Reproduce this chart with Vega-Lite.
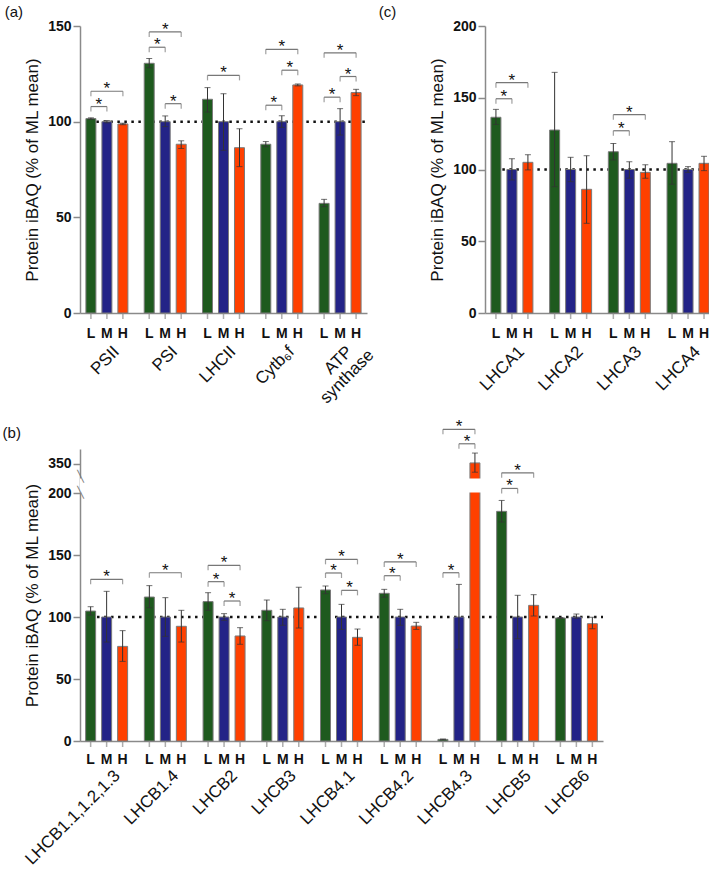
{
  "$schema": "https://vega.github.io/schema/vega-lite/v6.json",
  "padding": {"left": 2, "top": 5, "right": 0, "bottom": 0},
  "config": {
    "view": {"stroke": null},
    "font": "Liberation Sans",
    "axis": {"domainColor": "#8a8a8a", "domainWidth": 1.5, "tickColor": "#8a8a8a", "tickWidth": 1.5, "labelColor": "#111", "titleColor": "#111", "grid": false},
    "axisY": {"labelFontSize": 14, "labelFontWeight": "bold", "tickSize": 7, "labelPadding": 2, "titleFontSize": 17, "titleFontWeight": "normal", "titlePadding": 6},
    "axisX": {"ticks": false, "labelAngle": -45, "labelFontSize": 17, "labelPadding": 28, "labelOffset": 4, "labelFontWeight": "normal"},
    "title": {"fontSize": 15, "fontWeight": "normal", "anchor": "start", "color": "#111", "offset": -1}
  },
  "datasets": {
    "a_bars": [
      {"g": "PSII", "c": "L", "v": 101.6, "lo": 101.2, "hi": 102.0},
      {"g": "PSII", "c": "M", "v": 100, "lo": 99.4, "hi": 100.6},
      {"g": "PSII", "c": "H", "v": 98.8, "lo": 98.4, "hi": 99.2},
      {"g": "PSI", "c": "L", "v": 130.5, "lo": 128.2, "hi": 133},
      {"g": "PSI", "c": "M", "v": 100, "lo": 97.4, "hi": 103},
      {"g": "PSI", "c": "H", "v": 88.2, "lo": 86, "hi": 90},
      {"g": "LHCII", "c": "L", "v": 111.7, "lo": 105, "hi": 117.8},
      {"g": "LHCII", "c": "M", "v": 100, "lo": 85, "hi": 114.6},
      {"g": "LHCII", "c": "H", "v": 86.4, "lo": 76.5, "hi": 96.3},
      {"g": "Cytb₆f", "c": "L", "v": 88.2, "lo": 86.9, "hi": 89.6},
      {"g": "Cytb₆f", "c": "M", "v": 100, "lo": 97, "hi": 103.1},
      {"g": "Cytb₆f", "c": "H", "v": 119.2, "lo": 118.7, "hi": 119.7},
      {"g": "ATP synthase", "c": "L", "v": 57.3, "lo": 55.6, "hi": 59.4},
      {"g": "ATP synthase", "c": "M", "v": 100, "lo": 93, "hi": 106.8},
      {"g": "ATP synthase", "c": "H", "v": 115.2, "lo": 113.6, "hi": 116.9}
    ],
    "a_br": [
      {"g": "PSII", "from": "L", "to": "M", "y": 107.9},
      {"g": "PSII", "from": "L", "to": "H", "y": 115.9},
      {"g": "PSI", "from": "L", "to": "M", "y": 138.9},
      {"g": "PSI", "from": "L", "to": "H", "y": 146.9},
      {"g": "PSI", "from": "M", "to": "H", "y": 109.4},
      {"g": "LHCII", "from": "L", "to": "H", "y": 124.2},
      {"g": "Cytb₆f", "from": "L", "to": "M", "y": 108.6},
      {"g": "Cytb₆f", "from": "L", "to": "H", "y": 137.8},
      {"g": "Cytb₆f", "from": "M", "to": "H", "y": 126.9},
      {"g": "ATP synthase", "from": "L", "to": "M", "y": 112.8},
      {"g": "ATP synthase", "from": "L", "to": "H", "y": 136},
      {"g": "ATP synthase", "from": "M", "to": "H", "y": 123.6}
    ],
    "a_label2": [{"g": "ATP synthase", "t": "synthase"}],
    "c_bars": [
      {"g": "LHCA1", "c": "L", "v": 136.4, "lo": 131.4, "hi": 141.9},
      {"g": "LHCA1", "c": "M", "v": 100, "lo": 92.7, "hi": 107.5},
      {"g": "LHCA1", "c": "H", "v": 105, "lo": 99.7, "hi": 110.3},
      {"g": "LHCA2", "c": "L", "v": 127.5, "lo": 88, "hi": 167.7},
      {"g": "LHCA2", "c": "M", "v": 100, "lo": 91.5, "hi": 108.5},
      {"g": "LHCA2", "c": "H", "v": 86.2, "lo": 62.5, "hi": 109.6},
      {"g": "LHCA3", "c": "L", "v": 112.4, "lo": 106.6, "hi": 118.2},
      {"g": "LHCA3", "c": "M", "v": 100, "lo": 93.9, "hi": 105.4},
      {"g": "LHCA3", "c": "H", "v": 98, "lo": 93.9, "hi": 103.3},
      {"g": "LHCA4", "c": "L", "v": 104.3, "lo": 89.7, "hi": 119.4},
      {"g": "LHCA4", "c": "M", "v": 100, "lo": 98, "hi": 102},
      {"g": "LHCA4", "c": "H", "v": 104.3, "lo": 99.2, "hi": 109.2}
    ],
    "c_br": [
      {"g": "LHCA1", "from": "L", "to": "M", "y": 149.3},
      {"g": "LHCA1", "from": "L", "to": "H", "y": 160.5},
      {"g": "LHCA3", "from": "L", "to": "M", "y": 127},
      {"g": "LHCA3", "from": "L", "to": "H", "y": 138.2}
    ],
    "b_bars": [
      {"g": "LHCB1.1,1.2,1.3", "c": "L", "v": 104.8, "lo": 101.6, "hi": 108.3},
      {"g": "LHCB1.1,1.2,1.3", "c": "M", "v": 100, "lo": 79.8, "hi": 120.7},
      {"g": "LHCB1.1,1.2,1.3", "c": "H", "v": 76.3, "lo": 64.2, "hi": 89},
      {"g": "LHCB1.4", "c": "L", "v": 116.1, "lo": 107.5, "hi": 125.3},
      {"g": "LHCB1.4", "c": "M", "v": 100, "lo": 84.4, "hi": 115.6},
      {"g": "LHCB1.4", "c": "H", "v": 92.5, "lo": 79.8, "hi": 105.4},
      {"g": "LHCB2", "c": "L", "v": 112.4, "lo": 105.4, "hi": 119.6},
      {"g": "LHCB2", "c": "M", "v": 100, "lo": 97.3, "hi": 102.7},
      {"g": "LHCB2", "c": "H", "v": 84.7, "lo": 78, "hi": 91.4},
      {"g": "LHCB3", "c": "L", "v": 105.4, "lo": 97, "hi": 113.7},
      {"g": "LHCB3", "c": "M", "v": 100, "lo": 93.3, "hi": 106.2},
      {"g": "LHCB3", "c": "H", "v": 107.3, "lo": 91.1, "hi": 124},
      {"g": "LHCB4.1", "c": "L", "v": 121.8, "lo": 118.8, "hi": 125},
      {"g": "LHCB4.1", "c": "M", "v": 100, "lo": 90, "hi": 110.2},
      {"g": "LHCB4.1", "c": "H", "v": 83.6, "lo": 77.2, "hi": 90.3},
      {"g": "LHCB4.2", "c": "L", "v": 119.1, "lo": 115.9, "hi": 122.3},
      {"g": "LHCB4.2", "c": "M", "v": 100, "lo": 93.3, "hi": 106.2},
      {"g": "LHCB4.2", "c": "H", "v": 92.7, "lo": 90, "hi": 95.7},
      {"g": "LHCB4.3", "c": "L", "v": 1.3, "lo": 1.0, "hi": 1.6},
      {"g": "LHCB4.3", "c": "M", "v": 100, "lo": 74, "hi": 126.3},
      {"g": "LHCB4.3", "c": "H", "v": 351, "lo": 335, "hi": 368},
      {"g": "LHCB5", "c": "L", "v": 185.2, "lo": 176.6, "hi": 194},
      {"g": "LHCB5", "c": "M", "v": 100, "lo": 82.5, "hi": 117.5},
      {"g": "LHCB5", "c": "H", "v": 109.4, "lo": 100.8, "hi": 118},
      {"g": "LHCB6", "c": "L", "v": 99.2, "lo": 98.8, "hi": 99.6},
      {"g": "LHCB6", "c": "M", "v": 100, "lo": 99, "hi": 102.4},
      {"g": "LHCB6", "c": "H", "v": 94.6, "lo": 90.6, "hi": 99.7}
    ],
    "b_br": [
      {"g": "LHCB1.1,1.2,1.3", "from": "L", "to": "H", "y": 130.4},
      {"g": "LHCB1.4", "from": "L", "to": "H", "y": 135.7},
      {"g": "LHCB2", "from": "L", "to": "M", "y": 128.5},
      {"g": "LHCB2", "from": "L", "to": "H", "y": 141.7},
      {"g": "LHCB2", "from": "M", "to": "H", "y": 112.9},
      {"g": "LHCB4.1", "from": "L", "to": "M", "y": 135.5},
      {"g": "LHCB4.1", "from": "L", "to": "H", "y": 146.5},
      {"g": "LHCB4.1", "from": "M", "to": "H", "y": 121.5},
      {"g": "LHCB4.2", "from": "L", "to": "M", "y": 133.3},
      {"g": "LHCB4.2", "from": "L", "to": "H", "y": 144.4},
      {"g": "LHCB4.3", "from": "L", "to": "M", "y": 135.7},
      {"g": "LHCB4.3", "from": "L", "to": "H", "y": 409},
      {"g": "LHCB4.3", "from": "M", "to": "H", "y": 384},
      {"g": "LHCB5", "from": "L", "to": "M", "y": 238},
      {"g": "LHCB5", "from": "L", "to": "H", "y": 334}
    ],
    "b_breaks": [{"y": 327}, {"y": 200}]
  },
  "vconcat": [
    {
      "hconcat": [
        {
          "title": {"text": "(a)", "dx": -19},
          "width": 287, "height": 287,
          "layer": [
            {"data": {"values": [{}]}, "mark": {"type": "rule", "strokeDash": [2.5, 4.5], "strokeWidth": 2.5, "color": "#111"}, "encoding": {"y": {"datum": 100}, "x": {"datum": "PSII", "bandPosition": 0.28}, "x2": {"value": "width"}}},
            {"data": {"name": "a_bars"}, "mark": {"type": "bar", "stroke": "#7a7a7a", "strokeWidth": 1},
             "encoding": {
               "x": {"field": "g", "type": "nominal", "title": null, "scale": {"domain": ["PSII", "PSI", "LHCII", "Cytb₆f", "ATP synthase"], "paddingInner": 0.177, "paddingOuter": 0.05},
                     "axis": {"labelExpr": "datum.value == 'ATP synthase' ? 'ATP' : datum.label", "labelPadding": 30}},
               "xOffset": {"field": "c", "type": "nominal", "scale": {"domain": ["L", "M", "H"], "paddingInner": 0.375, "paddingOuter": 0.1875}},
               "y": {"field": "v", "type": "quantitative", "scale": {"domain": [0, 150], "nice": false}, "axis": {"values": [0, 50, 100, 150], "title": "Protein iBAQ (% of ML mean)"}},
               "color": {"field": "c", "type": "nominal", "scale": {"domain": ["L", "M", "H"], "range": ["#1e5a1e", "#232387", "#ff4000"]}, "legend": null}}},
            {"data": {"name": "a_label2"}, "mark": {"type": "text", "fontSize": 17, "angle": -45, "align": "right", "baseline": "top", "dx": -6, "dy": 42, "color": "#111"},
             "encoding": {"x": {"field": "g", "type": "nominal"}, "y": {"datum": 0}, "text": {"field": "t"}}},
            {"data": {"name": "a_bars"}, "mark": {"type": "rule", "color": "#333", "strokeWidth": 1},
             "encoding": {"x": {"field": "g", "type": "nominal"}, "xOffset": {"field": "c", "type": "nominal"}, "y": {"field": "lo", "type": "quantitative"}, "y2": {"field": "hi"}}},
            {"data": {"name": "a_bars"}, "mark": {"type": "tick", "color": "#333", "size": 6, "thickness": 1, "orient": "horizontal"},
             "encoding": {"x": {"field": "g", "type": "nominal"}, "xOffset": {"field": "c", "type": "nominal"}, "y": {"field": "lo", "type": "quantitative"}}},
            {"data": {"name": "a_bars"}, "mark": {"type": "tick", "color": "#333", "size": 6, "thickness": 1, "orient": "horizontal"},
             "encoding": {"x": {"field": "g", "type": "nominal"}, "xOffset": {"field": "c", "type": "nominal"}, "y": {"field": "hi", "type": "quantitative"}}},
            {"data": {"name": "a_bars"}, "mark": {"type": "tick", "color": "#8a8a8a", "size": 6, "thickness": 1.5, "orient": "vertical", "yOffset": 3},
             "encoding": {"x": {"field": "g", "type": "nominal"}, "xOffset": {"field": "c", "type": "nominal"}, "y": {"datum": 0}}},
            {"data": {"name": "a_bars"}, "mark": {"type": "text", "fontSize": 14, "fontWeight": "bold", "dy": 21, "baseline": "middle", "color": "#111"},
             "encoding": {"x": {"field": "g", "type": "nominal"}, "xOffset": {"field": "c", "type": "nominal"}, "y": {"datum": 0}, "text": {"field": "c"}}},
            {"data": {"name": "a_br"}, "transform": [{"fold": ["from", "to"], "as": ["end", "cond"]}], "mark": {"type": "line", "color": "#777", "strokeWidth": 1.2},
             "encoding": {"x": {"field": "g", "type": "nominal"}, "xOffset": {"field": "cond", "type": "nominal"}, "y": {"field": "y", "type": "quantitative"}, "detail": [{"field": "g"}, {"field": "from"}, {"field": "to"}]}},
            {"data": {"name": "a_br"}, "transform": [{"fold": ["from", "to"], "as": ["end", "cond"]}], "mark": {"type": "tick", "color": "#777", "size": 5, "thickness": 1.2, "orient": "vertical", "yOffset": 2.5},
             "encoding": {"x": {"field": "g", "type": "nominal"}, "xOffset": {"field": "cond", "type": "nominal"}, "y": {"field": "y", "type": "quantitative"}}},
            {"data": {"name": "a_br"}, "transform": [{"filter": "datum.from != 'L' || datum.to != 'H'"}], "mark": {"type": "text", "text": "*", "fontSize": 17, "dx": 8, "dy": 3, "baseline": "alphabetic", "color": "#111"},
             "encoding": {"x": {"field": "g", "type": "nominal"}, "xOffset": {"field": "from", "type": "nominal"}, "y": {"field": "y", "type": "quantitative"}}},
            {"data": {"name": "a_br"}, "transform": [{"filter": "datum.from == 'L' && datum.to == 'H'"}], "mark": {"type": "text", "text": "*", "fontSize": 17, "dx": 16, "dy": 3, "baseline": "alphabetic", "color": "#111"},
             "encoding": {"x": {"field": "g", "type": "nominal"}, "xOffset": {"field": "from", "type": "nominal"}, "y": {"field": "y", "type": "quantitative"}}}
          ]
        },
        {
          "title": {"text": "(c)", "dx": -50},
          "width": 230, "height": 287,
          "layer": [
            {"data": {"values": [{}]}, "mark": {"type": "rule", "strokeDash": [2.5, 4.5], "strokeWidth": 2.5, "color": "#111"}, "encoding": {"y": {"datum": 100}, "x": {"datum": "LHCA1", "bandPosition": 0.3}, "x2": {"value": "width"}}},
            {"data": {"name": "c_bars"}, "mark": {"type": "bar", "stroke": "#7a7a7a", "strokeWidth": 1},
             "encoding": {
               "x": {"field": "g", "type": "nominal", "title": null, "scale": {"domain": ["LHCA1", "LHCA2", "LHCA3", "LHCA4"], "paddingInner": 0.182, "paddingOuter": 0.05}, "axis": {"labelPadding": 30}},
               "xOffset": {"field": "c", "type": "nominal", "scale": {"domain": ["L", "M", "H"], "paddingInner": 0.375, "paddingOuter": 0.1875}},
               "y": {"field": "v", "type": "quantitative", "scale": {"domain": [0, 200], "nice": false}, "axis": {"values": [0, 50, 100, 150, 200], "title": "Protein iBAQ (% of ML mean)"}},
               "color": {"field": "c", "type": "nominal", "scale": {"domain": ["L", "M", "H"], "range": ["#1e5a1e", "#232387", "#ff4000"]}, "legend": null}}},
            {"data": {"name": "c_bars"}, "mark": {"type": "rule", "color": "#333", "strokeWidth": 1},
             "encoding": {"x": {"field": "g", "type": "nominal"}, "xOffset": {"field": "c", "type": "nominal"}, "y": {"field": "lo", "type": "quantitative"}, "y2": {"field": "hi"}}},
            {"data": {"name": "c_bars"}, "mark": {"type": "tick", "color": "#333", "size": 6, "thickness": 1, "orient": "horizontal"},
             "encoding": {"x": {"field": "g", "type": "nominal"}, "xOffset": {"field": "c", "type": "nominal"}, "y": {"field": "lo", "type": "quantitative"}}},
            {"data": {"name": "c_bars"}, "mark": {"type": "tick", "color": "#333", "size": 6, "thickness": 1, "orient": "horizontal"},
             "encoding": {"x": {"field": "g", "type": "nominal"}, "xOffset": {"field": "c", "type": "nominal"}, "y": {"field": "hi", "type": "quantitative"}}},
            {"data": {"name": "c_bars"}, "mark": {"type": "tick", "color": "#8a8a8a", "size": 6, "thickness": 1.5, "orient": "vertical", "yOffset": 3},
             "encoding": {"x": {"field": "g", "type": "nominal"}, "xOffset": {"field": "c", "type": "nominal"}, "y": {"datum": 0}}},
            {"data": {"name": "c_bars"}, "mark": {"type": "text", "fontSize": 14, "fontWeight": "bold", "dy": 21, "baseline": "middle", "color": "#111"},
             "encoding": {"x": {"field": "g", "type": "nominal"}, "xOffset": {"field": "c", "type": "nominal"}, "y": {"datum": 0}, "text": {"field": "c"}}},
            {"data": {"name": "c_br"}, "transform": [{"fold": ["from", "to"], "as": ["end", "cond"]}], "mark": {"type": "line", "color": "#777", "strokeWidth": 1.2},
             "encoding": {"x": {"field": "g", "type": "nominal"}, "xOffset": {"field": "cond", "type": "nominal"}, "y": {"field": "y", "type": "quantitative"}, "detail": [{"field": "g"}, {"field": "from"}, {"field": "to"}]}},
            {"data": {"name": "c_br"}, "transform": [{"fold": ["from", "to"], "as": ["end", "cond"]}], "mark": {"type": "tick", "color": "#777", "size": 5, "thickness": 1.2, "orient": "vertical", "yOffset": 2.5},
             "encoding": {"x": {"field": "g", "type": "nominal"}, "xOffset": {"field": "cond", "type": "nominal"}, "y": {"field": "y", "type": "quantitative"}}},
            {"data": {"name": "c_br"}, "transform": [{"filter": "datum.from != 'L' || datum.to != 'H'"}], "mark": {"type": "text", "text": "*", "fontSize": 17, "dx": 8, "dy": 3, "baseline": "alphabetic", "color": "#111"},
             "encoding": {"x": {"field": "g", "type": "nominal"}, "xOffset": {"field": "from", "type": "nominal"}, "y": {"field": "y", "type": "quantitative"}}},
            {"data": {"name": "c_br"}, "transform": [{"filter": "datum.from == 'L' && datum.to == 'H'"}], "mark": {"type": "text", "text": "*", "fontSize": 17, "dx": 16, "dy": 3, "baseline": "alphabetic", "color": "#111"},
             "encoding": {"x": {"field": "g", "type": "nominal"}, "xOffset": {"field": "from", "type": "nominal"}, "y": {"field": "y", "type": "quantitative"}}}
          ]
        }
      ],
      "spacing": 1
    },
    {
      "title": {"text": "(b)", "dx": -19, "dy": 27, "offset": 4},
      "width": 523, "height": 292,
      "layer": [
        {"data": {"values": [{}]}, "mark": {"type": "rule", "strokeDash": [2.5, 4.5], "strokeWidth": 2.5, "color": "#111"}, "encoding": {"y": {"datum": 100}, "x": {"datum": "LHCB1.1,1.2,1.3", "bandPosition": 0.3}, "x2": {"value": "width"}}},
        {"data": {"name": "b_bars"}, "mark": {"type": "bar", "stroke": "#7a7a7a", "strokeWidth": 1},
         "encoding": {
           "x": {"field": "g", "type": "nominal", "title": null, "scale": {"domain": ["LHCB1.1,1.2,1.3", "LHCB1.4", "LHCB2", "LHCB3", "LHCB4.1", "LHCB4.2", "LHCB4.3", "LHCB5", "LHCB6"], "paddingInner": 0.183, "paddingOuter": 0.045}, "axis": {"labelPadding": 26, "labelOffset": 5}},
           "xOffset": {"field": "c", "type": "nominal", "scale": {"domain": ["L", "M", "H"], "paddingInner": 0.375, "paddingOuter": 0.1875}},
           "y": {"field": "v", "type": "quantitative", "scale": {"domain": [0, 200, 325, 375], "range": [292, 44, 29, 0], "nice": false, "zero": false}, "axis": {"values": [0, 50, 100, 150, 200, 350], "title": "Protein iBAQ (% of ML mean)"}},
           "color": {"field": "c", "type": "nominal", "scale": {"domain": ["L", "M", "H"], "range": ["#1e5a1e", "#232387", "#ff4000"]}, "legend": null}}},
        {"data": {"values": [{}]}, "mark": {"type": "rect", "color": "white"}, "encoding": {"y": {"datum": 205}, "y2": {"datum": 320}}},
        {"data": {"name": "b_breaks"}, "mark": {"type": "text", "text": "╲", "font": "DejaVu Sans", "fontSize": 11, "color": "#777", "baseline": "middle", "align": "center", "dx": -2},
         "encoding": {"x": {"datum": "LHCB1.1,1.2,1.3", "bandPosition": 0}, "y": {"field": "y", "type": "quantitative"}}},
        {"data": {"name": "b_bars"}, "mark": {"type": "rule", "color": "#333", "strokeWidth": 1},
         "encoding": {"x": {"field": "g", "type": "nominal"}, "xOffset": {"field": "c", "type": "nominal"}, "y": {"field": "lo", "type": "quantitative"}, "y2": {"field": "hi"}}},
        {"data": {"name": "b_bars"}, "mark": {"type": "tick", "color": "#333", "size": 6, "thickness": 1, "orient": "horizontal"},
         "encoding": {"x": {"field": "g", "type": "nominal"}, "xOffset": {"field": "c", "type": "nominal"}, "y": {"field": "lo", "type": "quantitative"}}},
        {"data": {"name": "b_bars"}, "mark": {"type": "tick", "color": "#333", "size": 6, "thickness": 1, "orient": "horizontal"},
         "encoding": {"x": {"field": "g", "type": "nominal"}, "xOffset": {"field": "c", "type": "nominal"}, "y": {"field": "hi", "type": "quantitative"}}},
        {"data": {"name": "b_bars"}, "mark": {"type": "tick", "color": "#8a8a8a", "size": 6, "thickness": 1.5, "orient": "vertical", "yOffset": 3},
         "encoding": {"x": {"field": "g", "type": "nominal"}, "xOffset": {"field": "c", "type": "nominal"}, "y": {"datum": 0}}},
        {"data": {"name": "b_bars"}, "mark": {"type": "text", "fontSize": 14, "fontWeight": "bold", "dy": 19, "baseline": "middle", "color": "#111"},
         "encoding": {"x": {"field": "g", "type": "nominal"}, "xOffset": {"field": "c", "type": "nominal"}, "y": {"datum": 0}, "text": {"field": "c"}}},
        {"data": {"name": "b_br"}, "transform": [{"fold": ["from", "to"], "as": ["end", "cond"]}], "mark": {"type": "line", "color": "#777", "strokeWidth": 1.2},
         "encoding": {"x": {"field": "g", "type": "nominal"}, "xOffset": {"field": "cond", "type": "nominal"}, "y": {"field": "y", "type": "quantitative"}, "detail": [{"field": "g"}, {"field": "from"}, {"field": "to"}]}},
        {"data": {"name": "b_br"}, "transform": [{"fold": ["from", "to"], "as": ["end", "cond"]}], "mark": {"type": "tick", "color": "#777", "size": 5, "thickness": 1.2, "orient": "vertical", "yOffset": 2.5},
         "encoding": {"x": {"field": "g", "type": "nominal"}, "xOffset": {"field": "cond", "type": "nominal"}, "y": {"field": "y", "type": "quantitative"}}},
        {"data": {"name": "b_br"}, "transform": [{"filter": "datum.from != 'L' || datum.to != 'H'"}], "mark": {"type": "text", "text": "*", "fontSize": 17, "dx": 8, "dy": 3, "baseline": "alphabetic", "color": "#111"},
         "encoding": {"x": {"field": "g", "type": "nominal"}, "xOffset": {"field": "from", "type": "nominal"}, "y": {"field": "y", "type": "quantitative"}}},
        {"data": {"name": "b_br"}, "transform": [{"filter": "datum.from == 'L' && datum.to == 'H'"}], "mark": {"type": "text", "text": "*", "fontSize": 17, "dx": 16, "dy": 3, "baseline": "alphabetic", "color": "#111"},
         "encoding": {"x": {"field": "g", "type": "nominal"}, "xOffset": {"field": "from", "type": "nominal"}, "y": {"field": "y", "type": "quantitative"}}}
      ]
    }
  ],
  "spacing": 11
}
